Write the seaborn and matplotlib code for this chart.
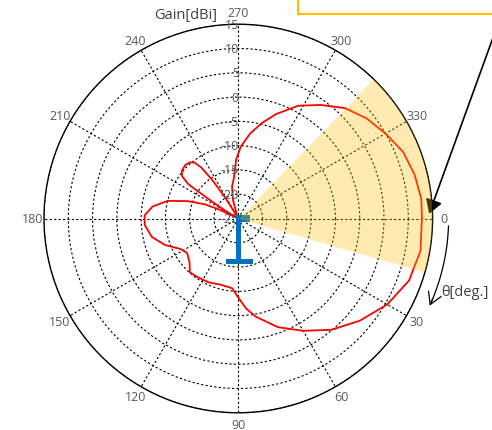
import numpy as np
import pandas as pd
import matplotlib
matplotlib.use("Agg")
import matplotlib.pyplot as plt
import matplotlib.patches as mpatches
import seaborn as sns

# ---------------- data ----------------
angles_deg = [0, 10, 20, 30, 40, 50, 60, 70, 80, 85, 90, 95, 105, 115, 125, 132,
              138, 146, 152, 160, 168, 176, 182, 188, 194, 199, 203, 205, 208, 211,
              213, 214.5, 217, 220, 225, 229, 232, 234, 236, 238, 241, 246, 251, 254, 259,
              264, 268, 272, 278, 284, 290, 298, 306, 314, 322, 330, 338, 346, 354, 360]
gain_dbi = [12.8, 13.1, 12.4, 10.4, 7.7, 4.9, 1.7, -1.2, -4.5, -6.4, -8.7, -10.6, -10.9,
            -10.5, -10.3, -10.1, -11.5, -12.3, -11.6, -9.0, -6.8, -5.7, -5.7, -7.2, -10.0,
            -14.0, -17.5, -20.5, -24.5, -22.0, -18.0, -12.5, -10.5, -9.8, -9.5, -9.7,
            -10.4, -12.0, -15.5, -20.0, -24.5, -24.9, -24.0, -21.0, -18.3, -16.5, -12.8, -10.2,
            -7.3, -4.7, -2.1, 1.3, 3.9, 6.6, 8.5, 10.0, 11.6, 12.4, 12.9, 12.8]

theta_ticks = list(range(0, 360, 30))
theta_labels = [str(t) for t in theta_ticks]
radial_ticks = [-25, -20, -15, -10, -5, 0, 5, 10, 15]
r_min, r_max = -25, 15
beam_start_deg, beam_end_deg = 314, 376   # highlighted sector (314 deg .. 16 deg)

# ---------------- style ----------------
sns.set_style("white")
plt.rcParams['font.family'] = ['Open Sans', 'DejaVu Sans']
tick_color = '#595959'

fig = plt.figure(figsize=(4.92, 4.31), dpi=100)
ax = fig.add_axes([0.0894, 0.0399, 0.7898, 0.9016], projection='polar')
ax.set_theta_zero_location('E')
ax.set_theta_direction(-1)
ax.set_ylim(r_min, r_max)

df = pd.DataFrame({'theta': np.deg2rad(angles_deg), 'gain': gain_dbi})
sns.lineplot(data=df, x='theta', y='gain', ax=ax, sort=False, estimator=None,
             color='red', linewidth=1.3, zorder=4)

# grid
ax.set_xticks(np.deg2rad(theta_ticks))
ax.set_xticklabels(theta_labels, fontsize=9, color=tick_color)
ax.tick_params(axis='x', length=0, pad=1.5)
ax.set_yticks(radial_ticks)
ax.set_yticklabels([])
ax.tick_params(axis='y', length=0)
ax.grid(True, color='black', linestyle=(0, (2, 2)), linewidth=0.8)
ax.spines['polar'].set_linewidth(1.0)
ax.spines['polar'].set_color('black')
ax.set_xlabel('')
ax.set_ylabel('')

for v in radial_ticks:
    ax.annotate(str(v), xy=(np.deg2rad(270), v), xytext=(0.5, 0),
                textcoords='offset points', ha='right', va='center',
                fontsize=9, color=tick_color, zorder=6)

# antenna icon (blue T)
px = 388.6
blue = '#0070C0'
for (x0, x1, y0, y1) in [(-1.8, 2.8, -2, 42), (-12.5, 15, 40.5, 45.5), (-1.8, 11.7, -3.2, 3.8)]:
    ax.add_patch(mpatches.Rectangle((0.5 + x0 / px, 0.5 - y1 / px), (x1 - x0) / px, (y1 - y0) / px,
                                    transform=ax.transAxes, color=blue, lw=0, zorder=7))

# pointer arrow from the (clipped) note box
ax.annotate('', xy=(np.deg2rad(358.6), 14.3), xytext=(507, 431), textcoords='figure pixels',
            arrowprops=dict(arrowstyle='-|>,head_length=0.5,head_width=0.3', mutation_scale=17,
                            color='black', lw=1.2, shrinkA=0, shrinkB=0),
            annotation_clip=False, zorder=5)

# highlighted sector
th = np.deg2rad(np.linspace(beam_start_deg, beam_end_deg, 80))
ax.fill_between(th, r_min, r_max, color='#FFC000', alpha=0.3, lw=0, zorder=10)

# theta direction arrow
arc = np.deg2rad(np.linspace(2, 23.5, 40))
ax.plot(arc, np.full_like(arc, 18.3), color='black', lw=0.9, clip_on=False, zorder=5)
ax.annotate('', xy=(np.deg2rad(24.5), 18.3), xytext=(np.deg2rad(22.5), 18.3),
            arrowprops=dict(arrowstyle='->,head_length=0.6,head_width=0.35', mutation_scale=14,
                            color='black', lw=0.9, shrinkA=0, shrinkB=0),
            annotation_clip=False)

W, H = 492, 431
fig.text(441 / W, 1 - 292 / H, 'θ[deg.]', ha='left', va='center', fontsize=10.5, color='#404040')
fig.text(217 / W, 1 - 15 / H, 'Gain[dBi]', ha='right', va='center', fontsize=10.5, color='#404040')

# note box (clipped at the top right)
fig.add_artist(mpatches.Rectangle((298 / W, 1 - 15 / H), 0.8, 0.2, transform=fig.transFigure,
                                  facecolor='white', edgecolor='#FFC000', lw=1.5, zorder=20))

fig.savefig('out.png', dpi=100)
